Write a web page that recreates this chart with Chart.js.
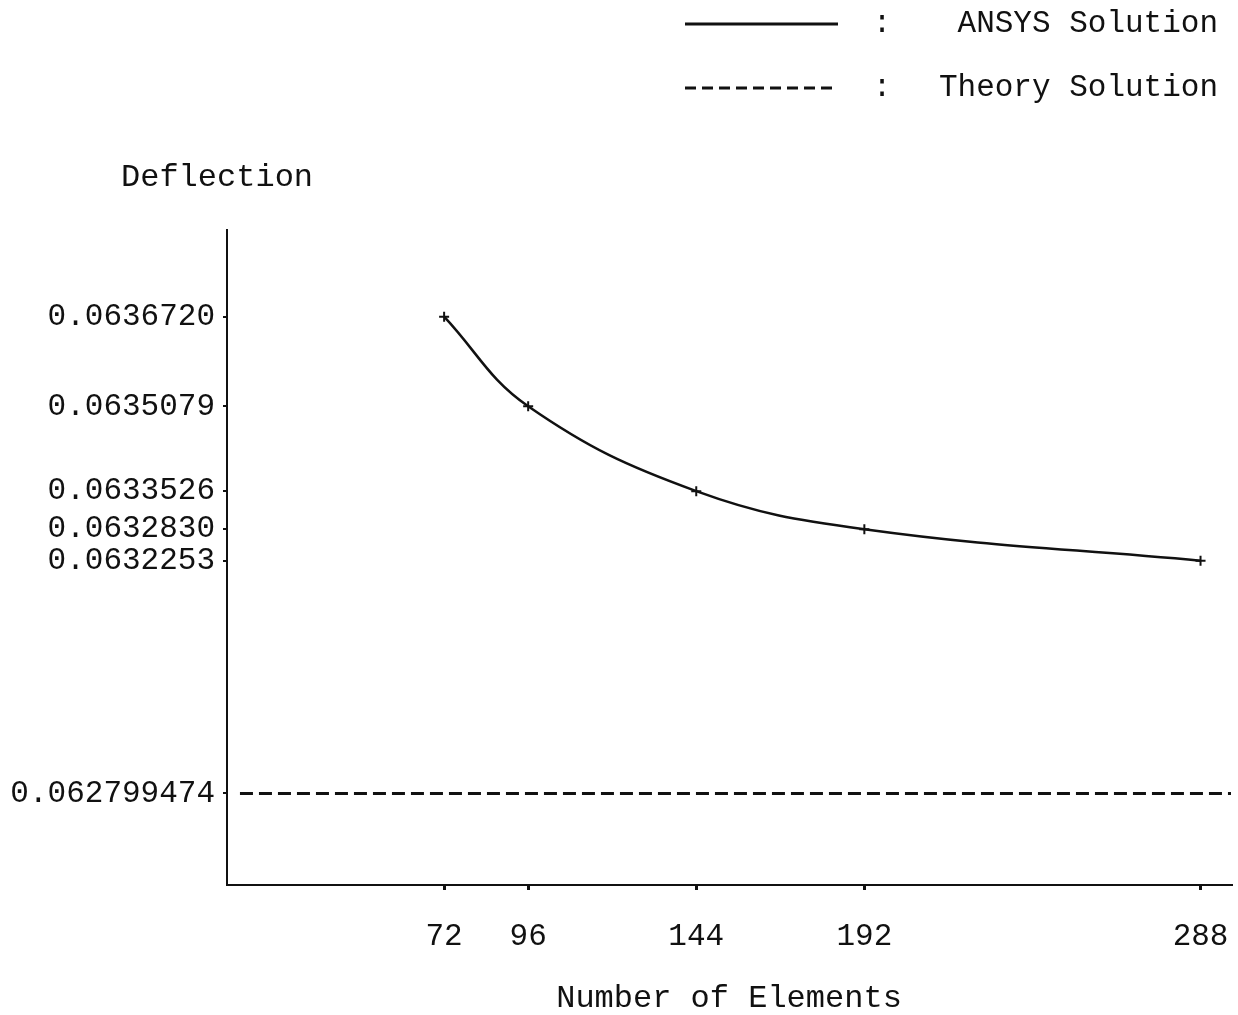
<!DOCTYPE html>
<html>
<head>
<meta charset="utf-8">
<script src="https://cdn.jsdelivr.net/npm/chart.js@4.4.1/dist/chart.umd.min.js"></script>
<style>
  body { margin: 0; background: #fff; }
  canvas { display: block; }
</style>
</head>
<body>
<canvas id="chart" width="1238" height="1015"></canvas>
<script>
'use strict';

// data
let elementCounts = [72, 96, 144, 192, 288];
let ansysDeflection = [0.0636720, 0.0635079, 0.0633526, 0.0632830, 0.0632253];
let theoryDeflection = 0.062799474;

// tick labels as printed
let xTickLabels = ['72', '96', '144', '192', '288'];
let yTickValues = [0.0636720, 0.0635079, 0.0633526, 0.0632830, 0.0632253, 0.062799474];
let yTickLabels = ['0.0636720', '0.0635079', '0.0633526', '0.0632830', '0.0632253', '0.062799474'];

let seriesNames = ['ANSYS Solution', 'Theory Solution'];

// axis bounds
let xMin = 10;
let xMax = 296.7;
let yMin = 0.0626319;
let yMax = 0.0638306;

let fontFamily = '"Liberation Mono", "Courier New", monospace';
let ink = '#111';

let ansysPoints = [];
for (let i = 0; i < elementCounts.length; i++) {
  ansysPoints.push({ x: elementCounts[i], y: ansysDeflection[i] });
}

// theory value is a flat line across the whole axis
let theoryPoints = [
  { x: xMin + 3.7, y: theoryDeflection },
  { x: xMax, y: theoryDeflection }
];

// legend + y label drawn in the top padding
let decorPlugin = {
  id: 'decor',
  afterDraw(chart) {
    let c = chart.ctx;
    c.save();
    c.fillStyle = ink;
    c.strokeStyle = ink;
    c.font = '31px ' + fontFamily;
    c.textBaseline = 'middle';

    c.lineWidth = 3;
    c.setLineDash([]);
    c.beginPath();
    c.moveTo(685, 24);
    c.lineTo(838, 24);
    c.stroke();

    c.setLineDash([11, 6]);
    c.beginPath();
    c.moveTo(685, 88);
    c.lineTo(838, 88);
    c.stroke();
    c.setLineDash([]);

    c.textAlign = 'center';
    c.fillText(':', 882, 24);
    c.fillText(':', 882, 88);

    c.textAlign = 'right';
    c.fillText(seriesNames[0], 1218, 24);
    c.fillText(seriesNames[1], 1218, 88);

    c.textAlign = 'left';
    c.font = '32px ' + fontFamily;
    c.fillText('Deflection', 121, 178);
    c.restore();
  }
};

let ctx = document.getElementById('chart').getContext('2d');

let chartObject = new Chart(ctx, {
  type: 'line',
  data: {
    datasets: [{
      label: seriesNames[0],
      data: ansysPoints,
      borderColor: ink,
      backgroundColor: ink,
      borderWidth: 2.5,
      tension: 0.4,
      pointStyle: 'cross',
      pointRadius: 5,
      pointBorderWidth: 2,
      fill: false
    },
    {
      label: seriesNames[1],
      data: theoryPoints,
      borderColor: ink,
      borderWidth: 3,
      borderDash: [13, 6],
      pointRadius: 0,
      fill: false
    }]
  },
  options: {
    responsive: false,
    animation: false,
    layout: {
      padding: { top: 230, right: 0, bottom: 0, left: 0 }
    },
    plugins: {
      legend: { display: false },
      tooltip: { enabled: false }
    },
    scales: {
      x: {
        type: 'linear',
        min: xMin,
        max: xMax,
        afterBuildTicks(scale) {
          scale.ticks = elementCounts.map(v => ({ value: v }));
        },
        afterFit(scale) {
          scale.height = 130;
          scale.paddingLeft = 0;
          scale.paddingRight = 0;
        },
        border: { display: true, color: ink, width: 2 },
        grid: {
          drawOnChartArea: false,
          color: ink,
          tickLength: 5,
          lineWidth: 3
        },
        ticks: {
          autoSkip: false,
          maxRotation: 0,
          padding: 28,
          color: ink,
          font: { family: fontFamily, size: 31 },
          callback: function (value, index) {
            return xTickLabels[index];
          }
        },
        title: {
          display: true,
          text: 'Number of Elements',
          color: ink,
          font: { family: fontFamily, size: 32, lineHeight: 1 },
          padding: { top: 0, bottom: 0 }
        }
      },
      y: {
        type: 'linear',
        min: yMin,
        max: yMax,
        afterBuildTicks(scale) {
          scale.ticks = yTickValues.map(v => ({ value: v }));
        },
        afterFit(scale) {
          scale.width = 227;
          scale.paddingTop = 0;
          scale.paddingBottom = 0;
        },
        border: { display: true, color: ink, width: 2 },
        grid: {
          drawOnChartArea: false,
          color: ink,
          tickLength: 4,
          lineWidth: 2
        },
        ticks: {
          autoSkip: false,
          padding: 8,
          color: ink,
          font: { family: fontFamily, size: 31 },
          callback: function (value, index) {
            return yTickLabels[index];
          }
        }
      }
    }
  },
  plugins: [decorPlugin]
});
</script>
</body>
</html>
